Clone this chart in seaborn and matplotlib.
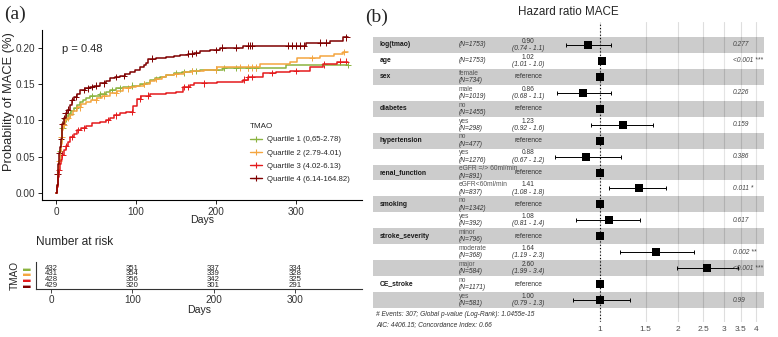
import numpy as np
import pandas as pd
import matplotlib
matplotlib.use("Agg")
import matplotlib.pyplot as plt
import matplotlib.transforms as mtransforms
from matplotlib.lines import Line2D
from matplotlib.ticker import NullLocator
import seaborn as sns

# ---------------- Kaplan-Meier data ----------------
groups = ["Quartile 1 (0,65-2.78)", "Quartile 2 (2.79-4.01)",
          "Quartile 3 (4.02-6.13)", "Quartile 4 (6.14-164.82)"]
colors = ["#8AB33F", "#F4A540", "#E41A1C", "#7F0000"]

days_q1 = [0, 1, 2, 3, 4, 5, 6, 7, 8, 9, 11, 13, 16, 19, 22, 26, 30, 34, 38, 42, 48, 55, 62, 67,
           75, 84, 95, 105, 112, 117, 124, 130, 138, 147, 158, 167, 180, 200, 209, 288, 365]
prob_q1 = [0, 0.010, 0.020, 0.032, 0.045, 0.058, 0.070, 0.080, 0.090, 0.097, 0.102, 0.106, 0.109,
           0.113, 0.117, 0.121, 0.125, 0.128, 0.131, 0.133, 0.134, 0.136, 0.139, 0.142, 0.144, 0.146,
           0.148, 0.150, 0.152, 0.156, 0.158, 0.160, 0.162, 0.165, 0.166, 0.168, 0.169, 0.170, 0.172,
           0.176, 0.176]

days_q2 = [0, 1, 2, 3, 4, 5, 6, 7, 8, 9, 11, 14, 17, 21, 26, 31, 37, 44, 51, 58, 67, 76, 84, 92,
           100, 110, 117, 124, 132, 138, 147, 160, 170, 185, 201, 255, 292, 301, 330, 347, 359, 365]
prob_q2 = [0, 0.012, 0.022, 0.032, 0.045, 0.057, 0.068, 0.078, 0.087, 0.094, 0.100, 0.104, 0.108,
           0.113, 0.118, 0.122, 0.125, 0.128, 0.131, 0.134, 0.138, 0.141, 0.144, 0.146, 0.148, 0.150,
           0.154, 0.157, 0.160, 0.162, 0.164, 0.166, 0.168, 0.170, 0.173, 0.178, 0.181, 0.186, 0.188,
           0.191, 0.194, 0.194]

days_q3 = [0, 1, 2, 3, 4, 5, 6, 8, 10, 12, 15, 18, 22, 26, 31, 38, 45, 55, 63, 68, 72, 80, 88, 96,
           101, 106, 117, 130, 138, 150, 159, 167, 172, 201, 234, 240, 259, 275, 292, 317, 334, 351, 365]
prob_q3 = [0, 0.008, 0.016, 0.023, 0.032, 0.040, 0.046, 0.053, 0.060, 0.065, 0.071, 0.077, 0.082,
           0.087, 0.090, 0.093, 0.096, 0.098, 0.101, 0.104, 0.107, 0.110, 0.112, 0.120, 0.130, 0.134,
           0.136, 0.137, 0.138, 0.139, 0.146, 0.149, 0.151, 0.153, 0.156, 0.160, 0.165, 0.166, 0.168,
           0.174, 0.177, 0.181, 0.181]

days_q4 = [0, 1, 2, 3, 4, 5, 6, 7, 8, 10, 12, 14, 17, 20, 23, 26, 30, 36, 42, 48, 55, 62, 67, 74,
           80, 86, 92, 99, 105, 110, 113, 115, 125, 138, 148, 155, 165, 172, 180, 193, 205, 234, 313,
           325, 342, 359, 365]
prob_q4 = [0, 0.012, 0.027, 0.040, 0.055, 0.064, 0.075, 0.087, 0.095, 0.103, 0.110, 0.115, 0.121,
           0.128, 0.132, 0.137, 0.142, 0.144, 0.146, 0.148, 0.151, 0.154, 0.158, 0.160, 0.161, 0.164,
           0.167, 0.170, 0.174, 0.176, 0.179, 0.185, 0.186, 0.187, 0.189, 0.190, 0.192, 0.193, 0.195,
           0.197, 0.200, 0.2027, 0.206, 0.207, 0.209, 0.214, 0.214]

# censoring times (+ marks)
cens_q1 = [5, 8, 12, 18, 25, 45, 55, 60, 70, 80, 95, 110, 150, 160, 170, 175, 200, 210, 225, 240, 250, 365]
cens_q2 = [4, 7, 10, 15, 30, 50, 60, 75, 90, 110, 125, 150, 170, 200, 230, 240, 245, 250, 320, 360]
cens_q3 = [4, 8, 12, 20, 28, 35, 65, 75, 95, 105, 115, 160, 165, 185, 235, 240, 245, 270, 300, 335, 355, 362]
cens_q4 = [2, 4, 6, 8, 10, 12, 15, 20, 25, 35, 40, 45, 50, 60, 75, 85, 120, 165, 170, 175, 200, 208,
           225, 240, 243, 245, 290, 295, 300, 305, 310, 330, 338, 363]

risk_times = [0, 100, 200, 300]
risk_q1 = [432, 351, 337, 334]
risk_q2 = [431, 354, 339, 328]
risk_q3 = [428, 356, 342, 325]
risk_q4 = [429, 320, 301, 291]

# ---------------- Forest plot data ----------------
var_names = ["log(tmao)", "age", "sex", "", "diabetes", "", "hypertension", "", "renal_function", "",
             "smoking", "", "stroke_severity", "", "", "CE_stroke", ""]
levels = ["", "", "female", "male", "no", "yes", "no", "yes", "eGFR =/> 60ml/min", "eGFR<60ml/min",
          "no", "yes", "minor", "moderate", "major", "no", "yes"]
n_obs = [1753, 1753, 734, 1019, 1455, 298, 477, 1276, 891, 837, 1342, 392, 796, 368, 584, 1171, 581]
hr = [0.90, 1.02, 1, 0.86, 1, 1.23, 1, 0.88, 1, 1.41, 1, 1.08, 1, 1.64, 2.60, 1, 1.00]
ci_low = [0.74, 1.01, np.nan, 0.68, np.nan, 0.92, np.nan, 0.67, np.nan, 1.08, np.nan, 0.81, np.nan,
          1.19, 1.99, np.nan, 0.79]
ci_high = [1.1, 1.03, np.nan, 1.1, np.nan, 1.6, np.nan, 1.2, np.nan, 1.8, np.nan, 1.43, np.nan,
           2.3, 3.4, np.nan, 1.3]
est_labels = ["0.90", "1.02", "reference", "0.86", "reference", "1.23", "reference", "0.88", "reference",
              "1.41", "reference", "1.08", "reference", "1.64", "2.60", "reference", "1.00"]
ci_labels = ["(0.74 - 1.1)", "(1.01 - 1.0)", "", "(0.68 - 1.1)", "", "(0.92 - 1.6)", "", "(0.67 - 1.2)",
             "", "(1.08 - 1.8)", "", "(0.81 - 1.4)", "", "(1.19 - 2.3)", "(1.99 - 3.4)", "", "(0.79 - 1.3)"]
p_labels = ["0.277", "<0.001 ***", "", "0.226", "", "0.159", "", "0.386", "", "0.011 *", "", "0.617", "",
            "0.002 **", "<0.001 ***", "", "0.99"]
hr_ticks = [1, 1.5, 2, 2.5, 3, 3.5, 4]

# ---------------- figure ----------------
sns.set_style("white")
plt.rcParams["font.family"] = ["Liberation Sans", "DejaVu Sans"]

W, H = 778, 337
fig = plt.figure(figsize=(W / 100, H / 100), dpi=100)


def box(l, t, r, b):
    return [l / W, 1 - b / H, (r - l) / W, (b - t) / H]


def fx(px):
    return px / W


def fy(py):
    return 1 - py / H


# --- KM curves
ax_km = fig.add_axes(box(42, 30, 362, 200))
all_days = [days_q1, days_q2, days_q3, days_q4]
all_prob = [prob_q1, prob_q2, prob_q3, prob_q4]
all_cens = [cens_q1, cens_q2, cens_q3, cens_q4]
pal = dict(zip(groups, colors))

km = pd.concat([pd.DataFrame({"day": d, "prob": p, "group": g})
                for d, p, g in zip(all_days, all_prob, groups)], ignore_index=True)
sns.lineplot(data=km, x="day", y="prob", hue="group", palette=pal, drawstyle="steps-post",
             estimator=None, sort=False, lw=1.1, legend=False, ax=ax_km)

cens_rows = []
for d, p, c, g in zip(all_days, all_prob, all_cens, groups):
    idx = np.searchsorted(d, c, side="right") - 1
    cens_rows.append(pd.DataFrame({"day": c, "prob": np.array(p)[idx], "group": g}))
cens = pd.concat(cens_rows, ignore_index=True)
sns.scatterplot(data=cens, x="day", y="prob", hue="group", palette=pal, marker="+", s=22,
                linewidth=0.7, legend=False, ax=ax_km)

ax_km.set_xlim(-17.5, 382.5)
ax_km.set_ylim(-0.0092, 0.2243)
ax_km.set_xticks([0, 100, 200, 300])
ax_km.set_yticks([0, 0.05, 0.10, 0.15, 0.20])
ax_km.set_yticklabels(["0.00", "0.05", "0.10", "0.15", "0.20"])
for s in ["top", "right"]:
    ax_km.spines[s].set_visible(False)
for s in ["left", "bottom"]:
    ax_km.spines[s].set_linewidth(0.8)
    ax_km.spines[s].set_color("black")
ax_km.tick_params(labelsize=7.2, labelcolor="#333333", length=3, width=0.6, color="black", pad=2,
                  left=True, bottom=True)
ax_km.set_xlabel("Days", fontsize=7.6)
ax_km.xaxis.set_label_coords(0.5, -0.09)
ax_km.set_ylabel("Probability of MACE (%)", fontsize=9.3)
ax_km.yaxis.set_label_coords(-0.083, 0.58)
ax_km.text(fx(62), fy(49), "p = 0.48", transform=fig.transFigure, fontsize=8, va="center", ha="left")

handles = [Line2D([0], [0], color=c, lw=1.0, marker="+", markersize=5, markeredgewidth=0.8)
           for c in colors]
leg = ax_km.legend(handles, groups, title="TMAO", loc="upper left", frameon=False,
                   bbox_to_anchor=(fx(243), fy(116)), bbox_transform=fig.transFigure,
                   fontsize=5.6, title_fontsize=5.8, handlelength=1.6, handletextpad=0.6,
                   labelspacing=0.75, alignment="left")

# --- Number at risk table
ax_rt = fig.add_axes(box(36, 262, 362, 289))
rows = [4, 3, 2, 1]
for row, vals in zip(rows, [risk_q1, risk_q2, risk_q3, risk_q4]):
    for t, n in zip(risk_times, vals):
        ax_rt.text(t, row, str(n), ha="center", va="center", fontsize=5.6)
ax_rt.set_xlim(-18.5, 382.8)
ax_rt.set_ylim(0.29, 5.09)
ax_rt.set_xticks(risk_times)
ax_rt.set_yticks(rows)
ax_rt.set_yticklabels(["\u25AC"] * 4, fontsize=5.5)
for lab, c in zip(ax_rt.get_yticklabels(), colors):
    lab.set_color(c)
for s in ["top", "right"]:
    ax_rt.spines[s].set_visible(False)
for s in ["left", "bottom"]:
    ax_rt.spines[s].set_linewidth(0.8)
    ax_rt.spines[s].set_color("#333333")
ax_rt.tick_params(axis="x", labelsize=7.2, labelcolor="#333333", length=3, width=0.6, pad=1.5,
                  bottom=True)
ax_rt.tick_params(axis="y", length=0, pad=4)
ax_rt.set_xlabel("Days", fontsize=7.6)
ax_rt.xaxis.set_label_coords(0.5, -0.58)
ax_rt.set_ylabel("TMAO", fontsize=7.2)
ax_rt.yaxis.set_label_coords(-0.05, 0.5)
fig.text(fx(36), fy(242), "Number at risk", fontsize=8.6, ha="left", va="center")

# --- Forest plot
ax_f = fig.add_axes(box(373, 22, 764, 322))
ax_f.set_xscale("log")
ax_f.set_xlim(0.1329, 4.297)
ax_f.set_ylim(17.38, -1.443)
ypos = list(range(len(var_names)))
for i in ypos:
    ax_f.axhspan(i - 0.5, i + 0.5, color=(0, 0, 0, 0.2) if i % 2 == 0 else (1, 1, 1, 0.2),
                 lw=0, zorder=1)
ax_f.set_xticks(hr_ticks)
ax_f.set_xticklabels([f"{t:g}" for t in hr_ticks])
ax_f.xaxis.set_minor_locator(NullLocator())
ax_f.set_yticks([])
ax_f.grid(axis="x", color="#DEDEDE", lw=0.8)
ax_f.grid(axis="y", visible=False)
ax_f.set_axisbelow(True)
for s in ax_f.spines.values():
    s.set_visible(False)
ax_f.tick_params(axis="x", length=0, labelsize=6, labelcolor="#4D4D4D", pad=3)

ci = pd.DataFrame({"hr": hr, "lo": ci_low, "hi": ci_high, "y": ypos}).dropna()
ax_f.errorbar(ci["hr"], ci["y"], xerr=[ci["hr"] - ci["lo"], ci["hi"] - ci["hr"]], fmt="none",
              ecolor="black", elinewidth=0.7, capsize=1.4, capthick=0.7, zorder=3)
sns.scatterplot(x=hr, y=ypos, marker="s", s=30, color="black", edgecolor="black", linewidth=0,
                zorder=4, ax=ax_f)
ax_f.axvline(1, color="black", ls=(0, (1, 2)), lw=0.8, zorder=2)

tr = mtransforms.blended_transform_factory(fig.transFigure, ax_f.transData)
off = 0.23
for i in ypos:
    if var_names[i]:
        ax_f.text(fx(380), i, var_names[i], transform=tr, fontsize=4.9, fontweight="bold",
                  ha="left", va="center", color="#1A1A1A")
    if levels[i]:
        ax_f.text(fx(459), i - off, levels[i], transform=tr, fontsize=4.8, ha="left", va="center",
                  color="#555555")
        ax_f.text(fx(459), i + off, f"(N={n_obs[i]})", transform=tr, fontsize=4.8, ha="left",
                  va="center", style="italic", color="#333333")
    else:
        ax_f.text(fx(459), i, f"(N={n_obs[i]})", transform=tr, fontsize=4.8, ha="left",
                  va="center", style="italic", color="#333333")
    if ci_labels[i]:
        ax_f.text(fx(528), i - off, est_labels[i], transform=tr, fontsize=4.8, ha="center",
                  va="center", color="#333333")
        ax_f.text(fx(528), i + off, ci_labels[i], transform=tr, fontsize=4.8, ha="center",
                  va="center", style="italic", color="#333333")
    else:
        ax_f.text(fx(528), i, est_labels[i], transform=tr, fontsize=4.8, ha="center",
                  va="center", color="#333333")
    if p_labels[i]:
        ax_f.text(fx(733), i, p_labels[i], transform=tr, fontsize=4.8, ha="left", va="center",
                  style="italic", color="#444444")

fig.text(fx(568.5), fy(12), "Hazard ratio MACE", fontsize=8.4, ha="center", va="center")
fig.text(fx(376), fy(315), "# Events: 307; Global p-value (Log-Rank): 1.0455e-15", fontsize=4.8,
         style="italic", ha="left", va="center", color="#333333")
fig.text(fx(376), fy(325), "AIC: 4406.15; Concordance Index: 0.66", fontsize=4.8,
         style="italic", ha="left", va="center", color="#333333")

# panel labels
fig.text(fx(4), fy(14), "(a)", fontsize=14, family="Liberation Serif", ha="left", va="center")
fig.text(fx(365), fy(17), "(b)", fontsize=14, family="Liberation Serif", ha="left", va="center")

fig.savefig("out.png", dpi=100)
